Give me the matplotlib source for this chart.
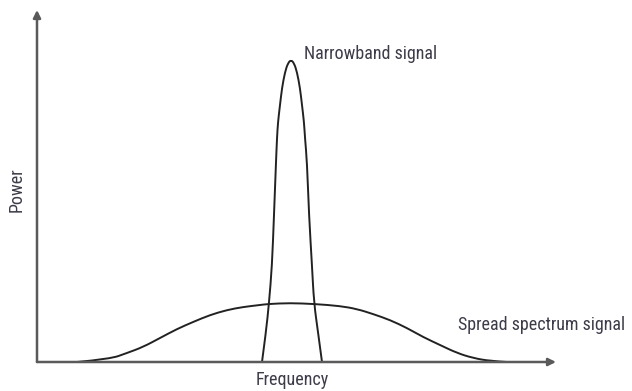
import matplotlib
matplotlib.use("Agg")
import matplotlib.pyplot as plt
from matplotlib.path import Path
from matplotlib.patches import PathPatch

plt.rcParams['font.family'] = ['Roboto Condensed', 'Liberation Sans Narrow',
                               'Roboto', 'DejaVu Sans']

# Narrowband signal curve (frequency, power)
narrow_freq = [225, 229, 232, 235, 237, 239, 240, 241, 243, 245, 248, 251, 254,
               257, 260, 263, 265, 267, 268, 270, 272, 275, 277, 281, 285]
narrow_power = [0, 30, 59, 96, 147, 200, 224, 240, 257, 274, 290, 299, 302,
                299, 290, 274, 257, 240, 224, 200, 147, 96, 59, 30, 0]

# Spread spectrum signal curve
spread_freq = [40, 73, 90, 106, 123, 140, 156, 173, 190, 206, 223, 231, 253,
               278, 303, 320, 336, 353, 370, 386, 403, 420, 436, 453, 470]
spread_power = [0, 3, 9, 15, 24, 33, 40, 47, 52, 55, 57, 58, 59,
                58, 56, 53, 48, 42, 34, 25, 17, 9, 4, 1, 0]

x_label = "Frequency"
y_label = "Power"
narrow_label = "Narrowband signal"
spread_label = "Spread spectrum signal"


def smooth_curve(ax, xs, ys, **kw):
    """Quadratic Bezier through midpoints, data points as control points."""
    pts = list(zip(xs, ys))
    verts = [pts[0]]
    codes = [Path.MOVETO]
    for i in range(1, len(pts) - 1):
        mid = ((pts[i][0] + pts[i + 1][0]) / 2, (pts[i][1] + pts[i + 1][1]) / 2)
        if i == len(pts) - 2:
            mid = pts[-1]
        verts += [pts[i], mid]
        codes += [Path.CURVE3, Path.CURVE3]
    ax.add_patch(PathPatch(Path(verts, codes), fill=False, **kw))


W, H = 632, 391
fig = plt.figure(figsize=(W / 100, H / 100), dpi=100)
ax = fig.add_axes([37 / W, 29 / H, (556 - 37) / W, (362 - 10) / H])
ax.set_xlim(0, 519)
ax.set_ylim(0, 352)
ax.axis('off')

axis_color = '#5a5a5a'
arrow_kw = dict(arrowstyle='-|>', color=axis_color, lw=1.8, mutation_scale=11,
                shrinkA=0, shrinkB=0)
ax.annotate('', xy=(0, 1), xytext=(0, 0), xycoords='axes fraction',
            textcoords='axes fraction', arrowprops=arrow_kw)
ax.annotate('', xy=(1, 0), xytext=(0, 0), xycoords='axes fraction',
            textcoords='axes fraction', arrowprops=arrow_kw)

smooth_curve(ax, spread_freq, spread_power, edgecolor='#222222', lw=1.4)
smooth_curve(ax, narrow_freq, narrow_power, edgecolor='#222222', lw=1.4)

txt_color = '#3c3c4a'
fs = 13
ax.text(267, 308, narrow_label, fontsize=fs, color=txt_color, ha='left', va='center')
ax.text(421, 37, spread_label, fontsize=fs, color=txt_color, ha='left', va='center')
fig.text(292 / W, 1 - 380 / H, x_label, fontsize=fs, color=txt_color,
         ha='center', va='center')
fig.text(17 / W, 1 - 190 / H, y_label, fontsize=fs, color=txt_color,
         ha='center', va='center', rotation=90)

fig.savefig('out.png', dpi=100)
